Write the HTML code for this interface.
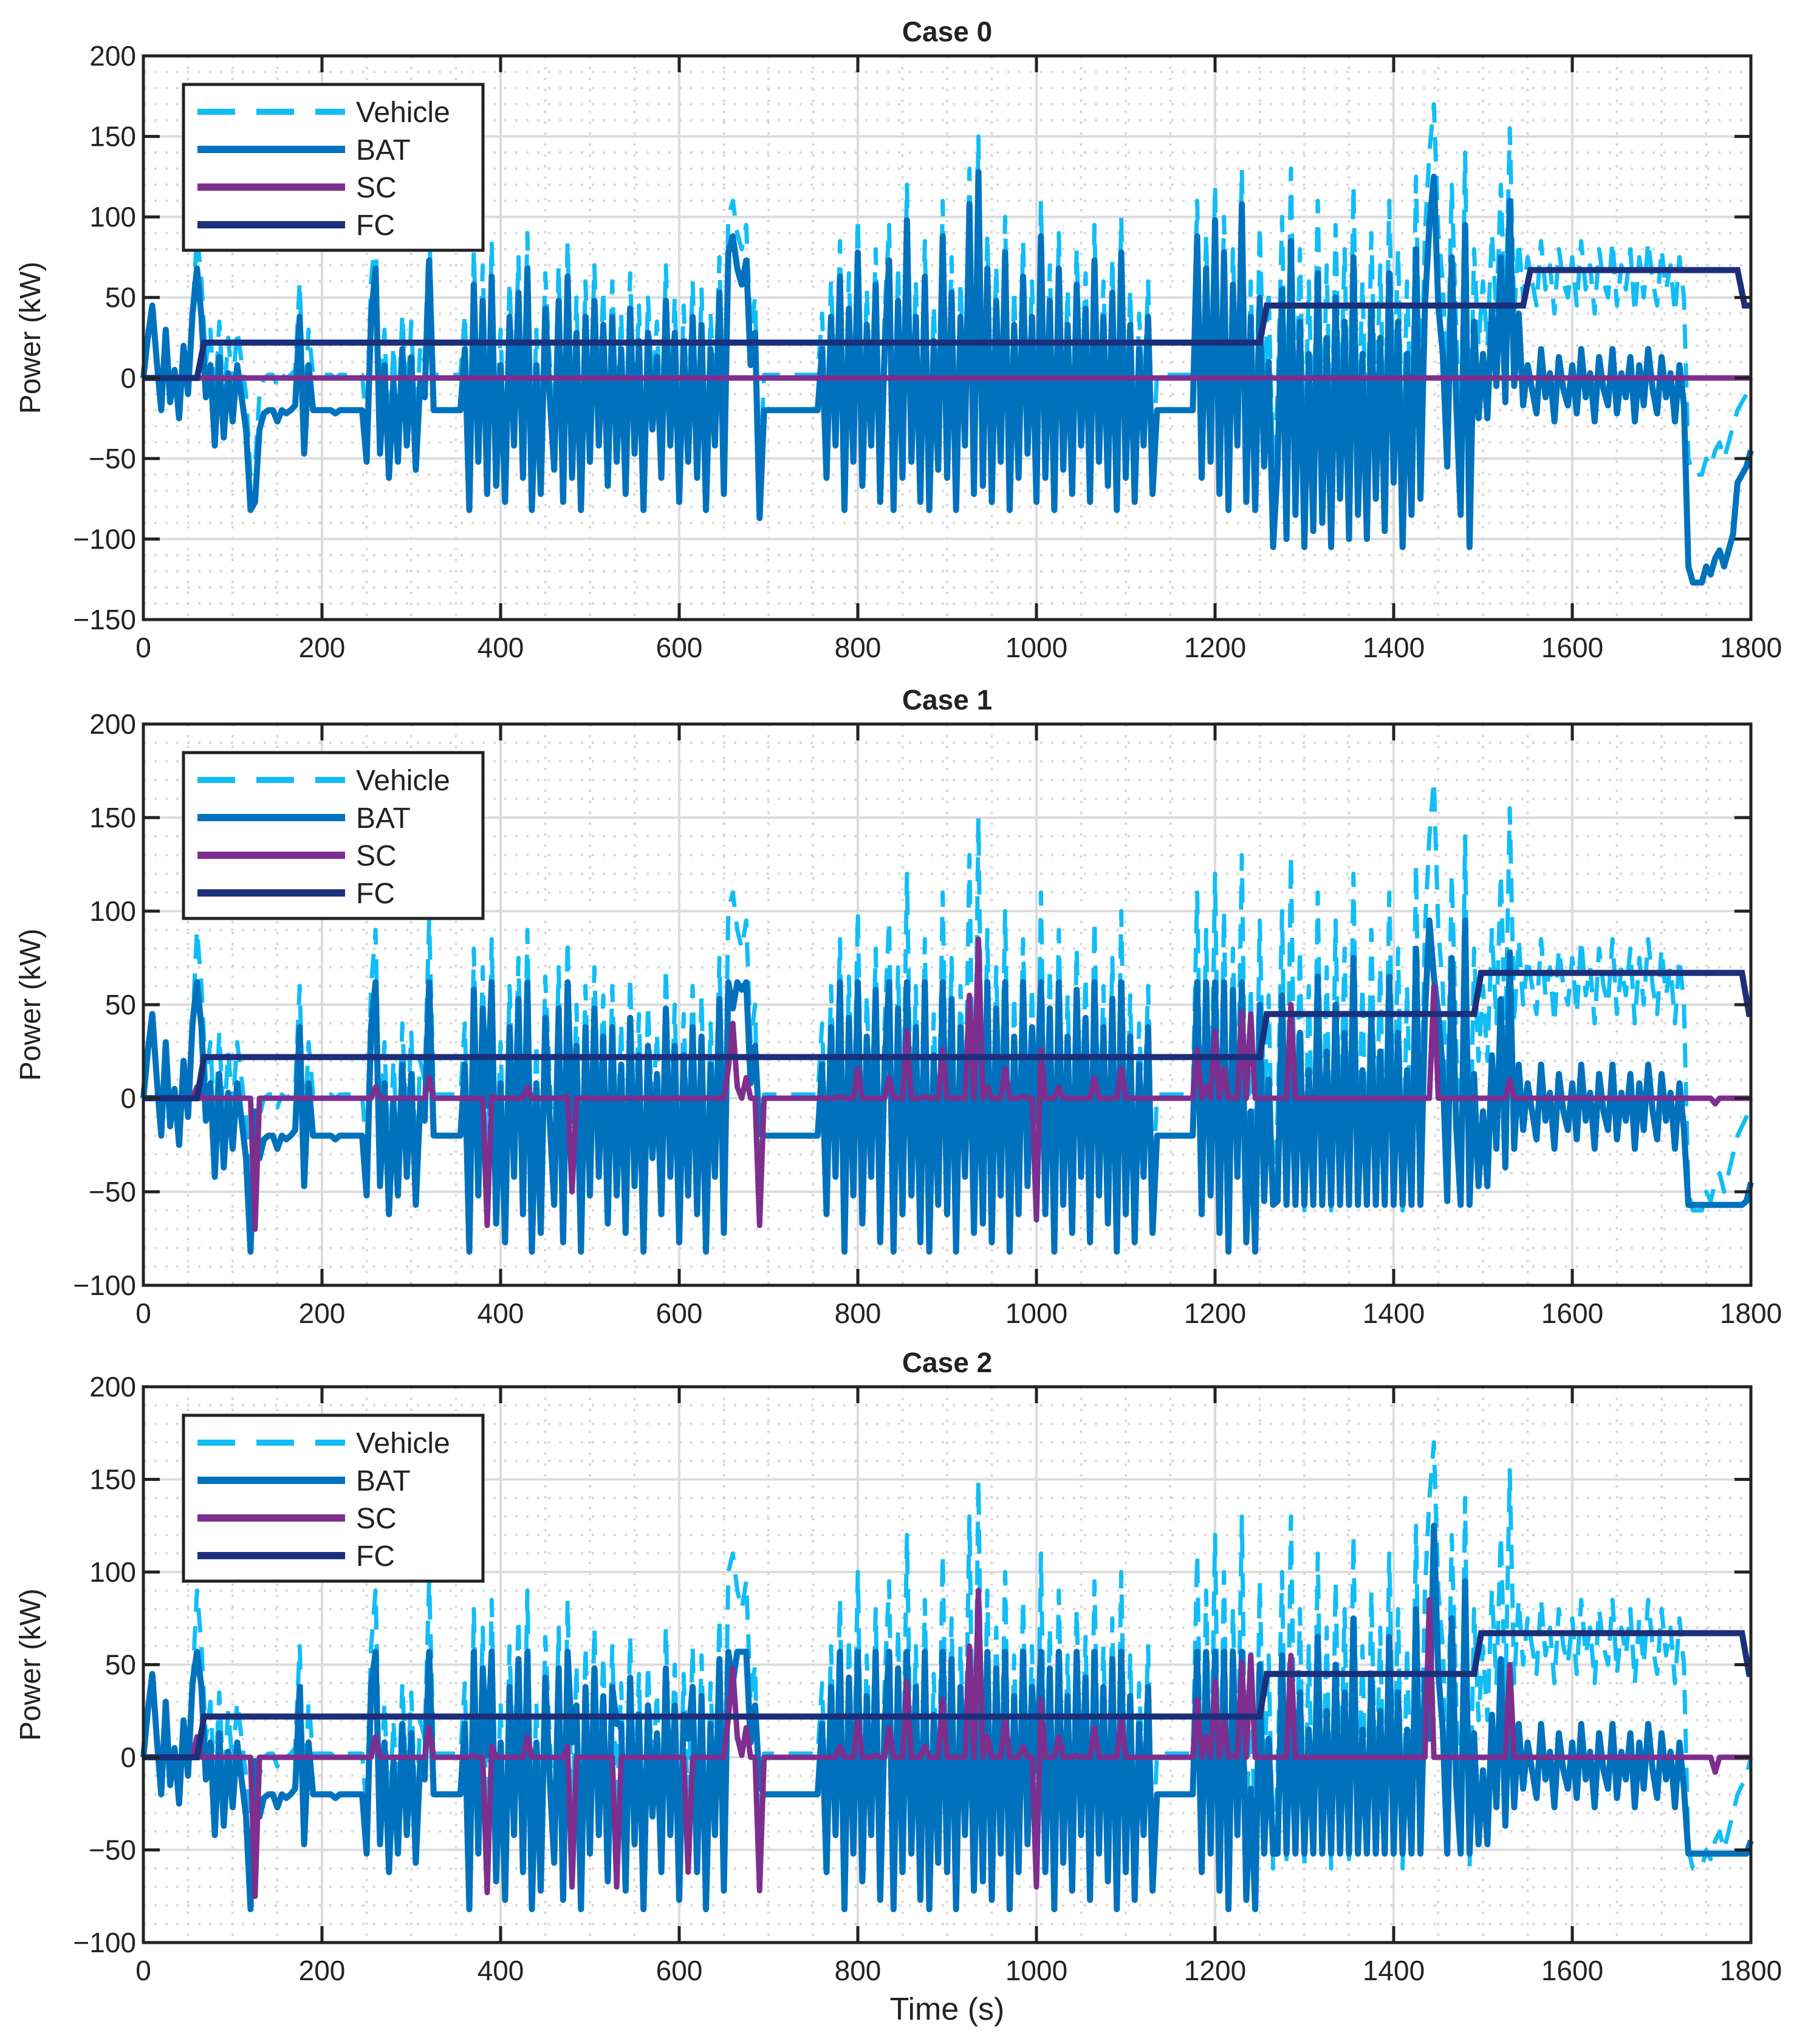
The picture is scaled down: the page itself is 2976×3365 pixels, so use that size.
<!DOCTYPE html>
<html><head><meta charset="utf-8"><style>
html,body{margin:0;padding:0;background:#fff;}
svg{display:block;font-family:"Liberation Sans Narrow","Liberation Sans",sans-serif;}
</style></head><body>
<svg id="chart" xmlns="http://www.w3.org/2000/svg" width="2976" height="3365" viewBox="0 0 2976 3365"></svg>
<script>
// Vehicle power demand (kW), sampled every 5 s from 0 to 1800 s
const timeStep = 5;
const vehicle = [
0,25,45,10,-20,30,-15,5,-25,20,-10,40,
90,60,10,30,-20,35,-15,25,-5,30,10,-10,
-60,-55,-10,0,2,2,-5,2,0,2,5,60,
-25,30,2,2,2,2,2,0,2,2,2,2,
2,2,-30,60,90,-25,30,-40,20,-30,40,-20,
35,-35,20,10,95,2,2,2,2,2,2,2,
40,-60,80,-30,70,-50,85,-45,30,-55,60,-20,
75,-40,90,-60,30,-50,65,10,-35,70,-55,85,
-40,50,-60,60,-30,70,-20,55,-45,60,-30,40,
-50,65,-25,45,-60,50,-10,35,-40,70,-20,50,
-55,45,-30,60,-40,55,-60,40,-20,75,-50,100,
110,90,80,95,30,50,-65,2,2,2,2,2,
2,2,2,2,2,2,2,2,40,-40,60,-20,
85,-60,65,-30,100,-45,55,-20,80,-55,40,95,
-60,70,-40,120,-30,60,-55,85,-60,45,-35,110,
-40,75,-60,60,-20,130,-50,150,-45,90,-55,70,
-30,100,-60,55,-40,85,-25,60,-55,110,-40,70,
-60,90,-35,55,-50,80,-20,65,-55,95,-30,60,
-45,75,-60,100,-40,55,-55,40,-20,60,-50,2,
2,2,2,2,2,2,2,2,110,-40,90,-30,
120,-50,100,-60,80,-20,130,-55,60,-60,95,-10,
55,-60,-10,100,-55,130,-40,80,-60,60,-50,110,
-45,70,-60,95,-30,80,-55,120,-40,60,-55,90,
-30,70,-50,110,-20,80,-60,60,-40,125,-30,90,
140,170,90,60,-10,120,30,-40,140,-60,80,20,
60,20,90,40,120,30,155,40,85,50,75,60,
45,85,55,70,40,80,60,50,75,45,85,55,
70,40,80,60,50,85,45,70,55,80,40,75,
50,85,60,45,80,55,70,40,75,50,-50,-60,
-60,-60,-50,-55,-45,-40,-50,-40,-30,-20,-15,-10,
0];
// Fuel-cell step profiles: breakpoint times (s) and levels (kW)
const fcTimes0 = [0, 60, 1250, 1545, 1785];
const fcLevels0 = [0, 22, 45, 67, 45];
const fcTimes1 = [0, 60, 1250, 1490, 1790];
const fcLevels1 = [0, 22, 45, 67, 45];
const fcTimes2 = [0, 60, 1250, 1490, 1790];
const fcLevels2 = [0, 22, 45, 67, 45];
// Supercapacitor events: times (s) and power (kW)
const scTimes0 = [];
const scValues0 = [];
const scTimes1 = [125,385,480,660,690,925,935,1000,1240,1285,1445,1530,1760];
const scValues1 = [-70,-68,-50,40,-68,55,85,-65,45,50,60,10,-3];
const scTimes2 = [125,385,430,480,530,610,660,690,925,935,1000,1240,1285,1440,1530,1760];
const scValues2 = [-75,-73,-62,-70,-70,-62,48,-72,60,90,-70,55,55,85,50,-8];
// Battery upper limit before 1250 s and lower limit after 1250 s (kW)
const batHigh = [1000, 62, 57];
const batLow = [-1000, -57, -52];
const batFloor = [-1000, -82, -82];
const caseTitles = ["Case 0", "Case 1", "Case 2"];
const yTicks0 = [-150,-100,-50,0,50,100,150,200];
const yTicks1 = [-100,-50,0,50,100,150,200];
const yTicks2 = [-100,-50,0,50,100,150,200];
const xTicks = [0,200,400,600,800,1000,1200,1400,1600,1800];
const legendLabels = ["Vehicle","BAT","SC","FC"];

const NS = "http://www.w3.org/2000/svg";
const svg = document.getElementById("chart");
const COL = {veh:"#12bdf6", bat:"#0072bd", sc:"#7e2f8e", fc:"#1c2f7b", ax:"#222"};
const L = 236, R = 2882;
const panels = [
  {top:92, bottom:1020, ymin:-150, ymax:200, ticks:yTicks0, fcT:fcTimes0, fcL:fcLevels0, scT:scTimes0, scV:scValues0},
  {top:1192, bottom:2116, ymin:-100, ymax:200, ticks:yTicks1, fcT:fcTimes1, fcL:fcLevels1, scT:scTimes1, scV:scValues1},
  {top:2283, bottom:3198, ymin:-100, ymax:200, ticks:yTicks2, fcT:fcTimes2, fcL:fcLevels2, scT:scTimes2, scV:scValues2}
];
function mk(tag, attrs, parent){
  const e = document.createElementNS(NS, tag);
  for (const k in attrs) e.setAttribute(k, attrs[k]);
  (parent||svg).appendChild(e);
  return e;
}
function fcAt(t, T, Lv){ let v = Lv[0]; for (let i=0;i<T.length;i++) if (t>=T[i]) v = Lv[i]; return v; }

panels.forEach((p, pi) => {
  const g = mk("g", {});
  
  
  const xs = t => L + (t/1800)*(R-L);
  const ys = v => p.bottom - (v-p.ymin)/(p.ymax-p.ymin)*(p.bottom-p.top);
  let d = "";
  for (let t=50; t<1800; t+=50) if (t%200) d += `M${xs(t)},${p.top}V${p.bottom}`;
  for (let v=p.ymin+10; v<p.ymax; v+=10) if (v%50) d += `M${L},${ys(v)}H${R}`;
  const mg = mk("path", {d, stroke:"#d8d8d8", "stroke-width":4, "stroke-dasharray":"4 14", fill:"none"}, g);
  
  
  d = "";
  xTicks.forEach(t => { d += `M${xs(t)},${p.top}V${p.bottom}`; });
  p.ticks.forEach(v => { d += `M${L},${ys(v)}H${R}`; });
  const jg = mk("path", {d, stroke:"#dcdcdc", "stroke-width":4, fill:"none"}, g);
  
  
  const tArr = vehicle.map((_, i) => i*timeStep);
  const fc = tArr.map(t => fcAt(t, p.fcT, p.fcL));
  const sc = tArr.map(() => 0);
  const bat = vehicle.map((v,i) => v - fc[i]);
  p.scT.forEach((t, k) => {
    const i = Math.round(t/timeStep);
    sc[i] = p.scV[k];
    bat[i] = vehicle[i] - fc[i] - sc[i];
  });
  tArr.forEach((t, i) => {
    if (t < 1250 && bat[i] > batHigh[pi]) { sc[i] += bat[i] - batHigh[pi]; bat[i] = batHigh[pi]; }
    if (t >= 1250 && bat[i] < batLow[pi]) { bat[i] = batLow[pi]; }
    if (bat[i] < batFloor[pi]) { bat[i] = batFloor[pi]; }
  });
  const line = arr => arr.map((v,i)=>(i?"L":"M")+xs(tArr[i]).toFixed(1)+","+ys(v).toFixed(1)).join("");
  const vp = mk("path", {d:line(vehicle), stroke:COL.veh, "stroke-width":7, "stroke-dasharray":"40 24", fill:"none", "stroke-linejoin":"round"}, g);
  
  
  const bp = mk("path", {d:line(bat), stroke:COL.bat, "stroke-width":10, fill:"none", "stroke-linejoin":"round"}, g);
  
  
  const sp = mk("path", {d:line(sc), stroke:COL.sc, "stroke-width":9, fill:"none", "stroke-linejoin":"round"}, g);
  
  
  let fd = `M${xs(0)},${ys(p.fcL[0])}`;
  for (let i=1;i<p.fcT.length;i++){ fd += `L${xs(p.fcT[i])},${ys(p.fcL[i-1])}L${xs(p.fcT[i]+8)},${ys(p.fcL[i])}`; }
  fd += `L${xs(1800)},${ys(p.fcL[p.fcL.length-1])}`;
  const fp = mk("path", {d:fd, stroke:COL.fc, "stroke-width":10, fill:"none"}, g);
  
  
  const box = mk("rect", {x:L, y:p.top, width:R-L, height:p.bottom-p.top, fill:"none", stroke:COL.ax, "stroke-width":5}, g);
  
  
  d = "";
  xTicks.forEach(t => { d += `M${xs(t)},${p.bottom}v-27M${xs(t)},${p.top}v27`; });
  p.ticks.forEach(v => { d += `M${L},${ys(v)}h27M${R},${ys(v)}h-27`; });
  mk("path", {d, stroke:COL.ax, "stroke-width":5, fill:"none"}, g);
  xTicks.forEach(t => {
    const tx = mk("text", {x:xs(t), y:p.bottom+62, "text-anchor":"middle", "font-size":46, fill:COL.ax}, g);
    tx.textContent = t;
    
    
  });
  p.ticks.forEach(v => {
    const ty = mk("text", {x:L-12, y:ys(v)+16, "text-anchor":"end", "font-size":46, fill:COL.ax}, g);
    ty.textContent = v < 0 ? "\u2212" + Math.abs(v) : v;
    
    
  });
  const tt = mk("text", {x:(L+R)/2, y:p.top-24, "text-anchor":"middle", "font-size":46, "font-weight":"bold", fill:COL.ax, "font-family":"Liberation Sans, sans-serif"}, g);
  tt.textContent = caseTitles[pi];
  
  
  const yl = mk("text", {x:0, y:0, "text-anchor":"middle", "font-size":48, fill:COL.ax, transform:`translate(66,${(p.top+p.bottom)/2}) rotate(-90)`}, g);
  yl.textContent = "Power (kW)";
  
  
  const lg = mk("g", {}, g);
  
  
  const ly = p.top + 47;
  mk("rect", {x:302, y:ly, width:493, height:273, fill:"#fff", stroke:COL.ax, "stroke-width":5}, lg);
  const cols = [COL.veh, COL.bat, COL.sc, COL.fc];
  legendLabels.forEach((lab, i) => {
    const yy = ly + 45 + i*62;
    const le = mk("line", {x1:325, x2:568, y1:yy, y2:yy, stroke:cols[i], "stroke-width":i?12:10, "stroke-dasharray":i?"none":"62 35"}, lg);
    
    
    const lt = mk("text", {x:586, y:yy+17, "font-size":48, fill:COL.ax}, lg);
    lt.textContent = lab;
    
    
  });
});
const xl = mk("text", {x:1559, y:3325, "text-anchor":"middle", "font-size":52, fill:COL.ax});
xl.textContent = "Time (s)";


</script>
</body></html>
